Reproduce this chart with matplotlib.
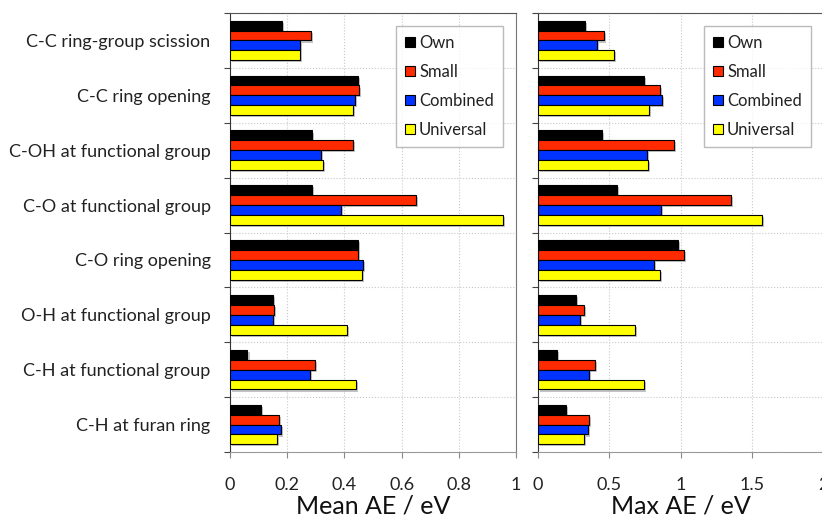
import matplotlib
matplotlib.use("Agg")
import matplotlib.pyplot as plt
import matplotlib.patheffects as pe
from matplotlib.lines import Line2D
import numpy as np

plt.rcParams['font.family'] = ['Lato', 'DejaVu Sans']

categories = ["C-C ring-group scission", "C-C ring opening", "C-OH at functional group",
              "C-O at functional group", "C-O ring opening", "O-H at functional group",
              "C-H at functional group", "C-H at furan ring"]
series = ["Own", "Small", "Combined", "Universal"]
colors = ["#000000", "#ff2a00", "#0033ff", "#ffff00"]

mean_own = [0.183, 0.446, 0.287, 0.287, 0.446, 0.149, 0.061, 0.108]
mean_small = [0.283, 0.452, 0.431, 0.650, 0.446, 0.153, 0.298, 0.172]
mean_comb = [0.245, 0.436, 0.317, 0.388, 0.466, 0.150, 0.280, 0.177]
mean_univ = [0.245, 0.431, 0.324, 0.953, 0.462, 0.410, 0.441, 0.165]

max_own = [0.333, 0.746, 0.448, 0.557, 0.979, 0.266, 0.133, 0.196]
max_small = [0.464, 0.858, 0.953, 1.350, 1.025, 0.322, 0.399, 0.357]
max_comb = [0.417, 0.867, 0.764, 0.865, 0.813, 0.294, 0.359, 0.354]
max_univ = [0.534, 0.776, 0.774, 1.569, 0.853, 0.683, 0.741, 0.326]

mean_ticks = [0, 0.2, 0.4, 0.6, 0.8, 1]
mean_ticklabels = ["0", "0.2", "0.4", "0.6", "0.8", "1"]
max_ticks = [0, 0.5, 1, 1.5, 2]
max_ticklabels = ["0", "0.5", "1", "1.5", "2"]

W, H = 822, 518
fig = plt.figure(figsize=(W / 100, H / 100), dpi=100)
axL = fig.add_axes([230 / W, 1 - 452 / H, 286 / W, 439 / H])
axR = fig.add_axes([537.7 / W, 1 - 452 / H, 286 / W, 439 / H])

bh = 0.18
n = len(categories)
y = np.arange(n)
shadow = [pe.SimplePatchShadow(offset=(1.5, -1.5), shadow_rgbFace='#888888', alpha=0.5), pe.Normal()]


def draw(ax, data, ticks, ticklabels, xlabel, xmax, show_cats, leg_right):
    for k, (vals, col, name) in enumerate(zip(data, colors, series)):
        bars = ax.barh(y + (k - 1.5) * bh, vals, height=bh, color=col,
                       edgecolor='black', linewidth=0.8, label=name, zorder=3)
        for b in bars:
            b.set_path_effects(shadow)
    ax.set_xlim(0, xmax)
    ax.set_ylim(n - 0.5, -0.5)
    ax.set_xticks(ticks)
    ax.set_xticklabels(ticklabels)
    ax.set_yticks(np.arange(n + 1) - 0.5)
    ax.set_yticklabels([])
    ax.set_yticks(y, minor=True)
    if show_cats:
        ax.set_yticklabels(categories, minor=True)
    else:
        ax.set_yticklabels([], minor=True)
    ax.tick_params(axis='y', which='minor', length=0, pad=14, labelsize=13, labelcolor='#222222')
    ax.tick_params(axis='y', which='major', length=4, color='#444444', width=0.8)
    ax.tick_params(axis='x', which='major', length=4, color='#888888', width=0.8,
                   pad=14, labelsize=13, labelcolor='#222222')
    ax.grid(True, which='major', color='#c8c8c8', linestyle=':', linewidth=0.8, zorder=0)
    ax.set_axisbelow(True)
    ax.set_xlabel(xlabel, fontsize=18, labelpad=1, color='#111111')
    ax.spines['left'].set_color('#333333')
    ax.spines['top'].set_color('#555555')
    ax.spines['right'].set_color('#777777')
    ax.spines['bottom'].set_color('#999999')
    handles = [Line2D([0], [0], marker='s', linestyle='none', markersize=7.5,
                      markerfacecolor=c, markeredgecolor='black', markeredgewidth=0.8)
               for c in colors]
    leg = ax.legend(handles, series, loc='upper right', bbox_to_anchor=leg_right,
                    fontsize=12, frameon=True, fancybox=False, edgecolor='#aaaaaa',
                    labelspacing=0.78, handletextpad=0.3, handlelength=0.55,
                    borderpad=0.55, borderaxespad=0)
    leg.get_frame().set_linewidth(1.0)
    for t in leg.get_texts():
        t.set_color('#222222')


draw(axL, [mean_own, mean_small, mean_comb, mean_univ], mean_ticks, mean_ticklabels,
     "Mean AE / eV", 1, True, ((503 - 230) / 286, (452 - 26) / 439))
draw(axR, [max_own, max_small, max_comb, max_univ], max_ticks, max_ticklabels,
     "Max AE / eV", 2, False, ((811 - 537.7) / 286, (452 - 26) / 439))

fig.savefig("out.png", dpi=100)
